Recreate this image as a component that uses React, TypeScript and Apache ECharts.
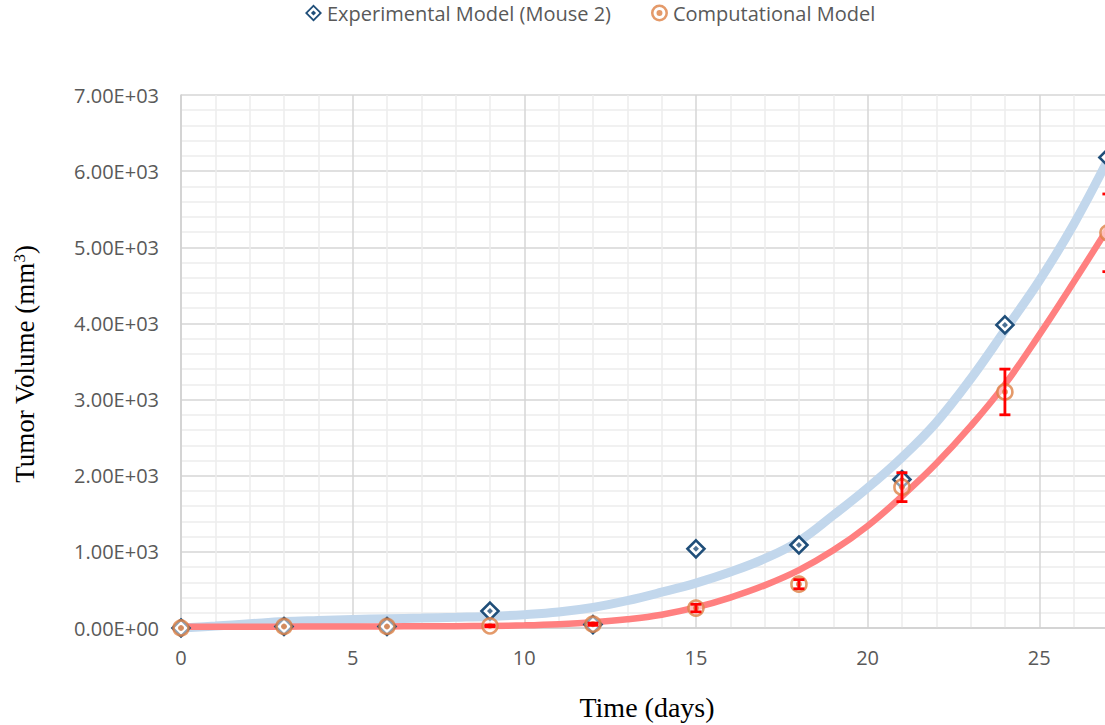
import React, { useEffect, useRef } from "react";
import * as echarts from "echarts";

const expX = [0, 3, 6, 9, 12, 15, 18, 21, 24, 27];
const expY = [0, 20, 20, 222, 45, 1040, 1090, 1950, 3980, 6180];
const compX = [0, 3, 6, 9, 12, 15, 18, 21, 24, 27];
const compY = [0, 20, 20, 28, 50, 262, 575, 1850, 3100, 5190];
const compErr = [0, 0, 0, 10, 15, 50, 60, 190, 300, 510];

const trendX = [0, 1, 2, 3, 4, 5, 6, 7, 8, 9, 10, 11, 12, 13, 14, 15, 16, 17, 18, 19, 20, 21, 22, 23, 24, 25, 26, 27];
const expTrend = [0, 25, 55, 85, 100, 112, 122, 130, 140, 152, 175, 210, 270, 360, 470, 590, 735, 910, 1140, 1480, 1840, 2240, 2700, 3270, 3910, 4560, 5300, 6150];
const compTrend = [15, 16, 17, 18, 19, 20, 21, 22, 24, 27, 35, 50, 75, 115, 175, 270, 400, 560, 760, 1020, 1340, 1730, 2160, 2650, 3200, 3850, 4540, 5250];

const yTicks = [0, 1000, 2000, 3000, 4000, 5000, 6000, 7000];
const xTicks = [0, 5, 10, 15, 20, 25, 30];

const expName = "Experimental Model (Mouse 2)";
const compName = "Computational Model";

const diamondIcon =
  "path://M10,0 L20,10 L10,20 L0,10 Z M10,3 L3,10 L10,17 L17,10 Z M10,7 L13,10 L10,13 L7,10 Z";
const circleIcon =
  "path://M10,0 A10,10 0 1,1 10,20 A10,10 0 1,1 10,0 Z M10,3 A7,7 0 1,0 10,17 A7,7 0 1,0 10,3 Z M10,6.5 A3.5,3.5 0 1,1 10,13.5 A3.5,3.5 0 1,1 10,6.5 Z";

function fmt(v: number): string {
  if (v === 0) return "0.00E+00";
  const e = Math.floor(Math.log10(v) + 1e-9);
  const m = v / Math.pow(10, e);
  return m.toFixed(2) + "E+" + String(e).padStart(2, "0");
}

export default function App() {
  const ref = useRef<HTMLDivElement>(null);
  useEffect(() => {
    if (!ref.current) return;
    const chart = echarts.init(ref.current, undefined, { renderer: "svg" });
    const unit = 34.33;
    const xMax = xTicks[xTicks.length - 1];
    const blue = "#1f4e79";
    const orange = "#dd8145";
    const gray = "#595959";
    const font = "'Open Sans', 'Noto Sans', sans-serif";
    const fs = 20;

    const errData = compX
      .map((x, i) => [x, compY[i] - compErr[i], compY[i] + compErr[i], compErr[i]])
      .filter((d) => d[3] > 0);

    chart.setOption({
      animation: false,
      backgroundColor: "#ffffff",
      legend: {
        top: -2,
        left: 300,
        itemGap: 40,
        itemWidth: 17,
        itemHeight: 17,
        textStyle: { color: gray, fontSize: fs, fontFamily: font },
        data: [
          { name: expName, icon: diamondIcon, itemStyle: { color: blue, borderWidth: 0 } },
          { name: compName, icon: circleIcon, itemStyle: { color: orange, borderWidth: 0 } },
        ],
      },
      grid: {
        left: 181,
        top: 95,
        width: xMax * unit,
        height: 533,
        containLabel: false,
        outerBoundsMode: "none",
      },
      xAxis: {
        type: "value",
        min: 0,
        max: xMax,
        interval: 5,
        axisLine: { show: true, lineStyle: { color: "#d0d0d0", width: 1.5 } },
        axisTick: { show: false },
        axisLabel: { color: gray, fontSize: fs, fontFamily: font, margin: 19, showMaxLabel: false },
        splitLine: { show: true, lineStyle: { color: "#d6d6d6", width: 1.5 } },
        minorTick: { show: false, splitNumber: 5 },
        minorSplitLine: { show: true, lineStyle: { color: "#ededed", width: 1.5 } },
      },
      yAxis: {
        type: "value",
        min: 0,
        max: yTicks[yTicks.length - 1],
        interval: 1000,
        axisLine: { show: true, lineStyle: { color: "#d0d0d0", width: 1.5 } },
        axisTick: { show: false },
        axisLabel: { color: gray, fontSize: fs, fontFamily: font, margin: 22, formatter: fmt },
        splitLine: { show: true, lineStyle: { color: "#d6d6d6", width: 1.5 } },
        minorTick: { show: false, splitNumber: 5 },
        minorSplitLine: { show: true, lineStyle: { color: "#ededed", width: 1.5 } },
      },
      graphic: [
        {
          type: "text",
          x: 647,
          y: 707,
          style: {
            text: "Time (days)",
            fill: "#000",
            font: "28px 'Liberation Serif', 'DejaVu Serif', serif",
            align: "center",
            verticalAlign: "middle",
          },
        },
        {
          type: "text",
          x: 25,
          y: 364,
          rotation: Math.PI / 2,
          style: {
            rich: {
              a: { fontFamily: "'Liberation Serif', serif", fontSize: 27, fill: "#000" },
              s: { fontFamily: "'Liberation Serif', serif", fontSize: 17, fill: "#000", verticalAlign: "top", padding: [0, 0, 11, 0] },
            },
            text: "{a|Tumor Volume (mm}{s|3}{a|)}",
            align: "center",
            verticalAlign: "middle",
          },
        },
      ],
      series: [
        {
          name: "expTrend",
          type: "line",
          data: trendX.map((x, i) => [x, expTrend[i]]),
          smooth: 0.4,
          showSymbol: false,
          symbol: "none",
          lineStyle: { color: "#c2d7ec", width: 9 },
          z: 1,
          silent: true,
        },
        {
          name: "compTrend",
          type: "line",
          data: trendX.map((x, i) => [x, compTrend[i]]),
          smooth: 0.4,
          showSymbol: false,
          symbol: "none",
          lineStyle: { color: "#ff8080", width: 6.5 },
          z: 2,
          silent: true,
        },
        {
          name: expName,
          type: "scatter",
          data: expX.map((x, i) => [x, expY[i]]),
          symbol: "diamond",
          symbolSize: 17,
          itemStyle: { color: "#ffffff", borderColor: blue, borderWidth: 2.6, opacity: 1 },
          z: 3,
        },
        {
          name: "expDot",
          type: "scatter",
          data: expX.map((x, i) => [x, expY[i]]),
          symbol: "diamond",
          symbolSize: 6,
          itemStyle: { color: blue },
          z: 4,
        },
        {
          name: compName,
          type: "scatter",
          data: compX.map((x, i) => [x, compY[i]]),
          symbol: "circle",
          symbolSize: 15,
          itemStyle: { color: "rgba(255,255,255,0.6)", borderColor: orange, borderWidth: 2.6 },
          z: 5,
        },
        {
          name: "compDot",
          type: "scatter",
          data: compX.map((x, i) => [x, compY[i]]),
          symbol: "circle",
          symbolSize: 6,
          itemStyle: { color: orange },
          z: 6,
        },
        {
          name: "errors",
          type: "custom",
          data: errData,
          encode: { x: 0, y: [1, 2] },
          z: 7,
          renderItem: (params: any, api: any) => {
            const x = api.value(0);
            const lo = api.coord([x, api.value(1)]);
            const hi = api.coord([x, api.value(2)]);
            const cap = 5.5;
            const st = { stroke: "#ff0000", lineWidth: 2.8 };
            return {
              type: "group",
              children: [
                { type: "line", shape: { x1: hi[0], y1: hi[1], x2: lo[0], y2: lo[1] }, style: st },
                { type: "line", shape: { x1: hi[0] - cap, y1: hi[1], x2: hi[0] + cap, y2: hi[1] }, style: st },
                { type: "line", shape: { x1: lo[0] - cap, y1: lo[1], x2: lo[0] + cap, y2: lo[1] }, style: st },
              ],
            };
          },
        },
      ],
    });
    return () => chart.dispose();
  }, []);
  return (
    <div
      ref={ref}
      style={{ position: "absolute", left: 0, top: 0, width: 1105, height: 725, overflow: "hidden" }}
    />
  );
}
